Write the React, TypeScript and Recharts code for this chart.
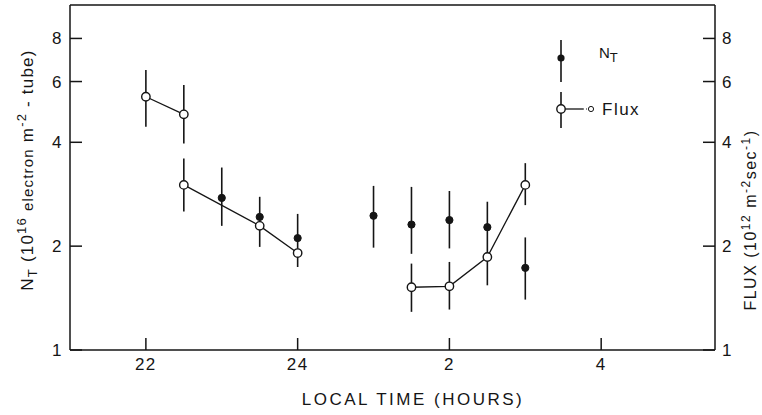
import React from 'react';
import { ScatterChart, Scatter, XAxis, YAxis, ErrorBar } from 'recharts';

// Local time in hours (after midnight written as 24 + h)
const ntHours = [23, 23.5, 24, 25, 25.5, 26, 26.5, 27];
const ntValues = [2.76, 2.43, 2.11, 2.45, 2.31, 2.38, 2.27, 1.73];
const ntLow = [2.29, 1.99, 1.74, 1.98, 1.9, 1.97, 1.54, 1.4];
const ntHigh = [3.38, 2.78, 2.48, 2.99, 2.97, 2.89, 2.69, 2.12];

const flux1Hours = [22, 22.5];
const flux1Values = [5.42, 4.82];
const flux1Low = [4.44, 3.97];
const flux1High = [6.48, 5.86];

const flux2Hours = [22.5, 23.5, 24];
const flux2Values = [3.01, 2.29, 1.91];
const flux2Low: (number | null)[] = [2.52, null, null];
const flux2High: (number | null)[] = [3.59, null, null];

const flux3Hours = [25.5, 26, 26.5, 27];
const flux3Values = [1.52, 1.53, 1.86, 3.01];
const flux3Low: (number | null)[] = [1.29, 1.31, null, 2.63];
const flux3High: (number | null)[] = [1.78, 1.8, null, 3.48];

const xTicks = [22, 24, 26, 28];
const yTicks = [1, 2, 4, 6, 8];

const rows = (h: number[], v: number[], lo: (number | null)[], hi: (number | null)[]) =>
  h.map((x, i) => ({
    x,
    y: v[i],
    err: [lo[i] == null ? 0 : v[i] - (lo[i] as number), hi[i] == null ? 0 : (hi[i] as number) - v[i]],
  }));

const ntData = rows(ntHours, ntValues, ntLow, ntHigh);
const flux1 = rows(flux1Hours, flux1Values, flux1Low, flux1High);
const flux2 = rows(flux2Hours, flux2Values, flux2Low, flux2High);
const flux3 = rows(flux3Hours, flux3Values, flux3Low, flux3High);

const INK = '#151515';
const FONT = '"Liberation Sans", Arial, sans-serif';

const OpenDot = (p: any) => <circle cx={p.cx} cy={p.cy} r={4.2} fill="#fff" stroke={INK} strokeWidth={1.4} />;
const FilledDot = (p: any) => <circle cx={p.cx} cy={p.cy} r={3.6} fill={INK} stroke={INK} strokeWidth={1} />;

const tickStyle = { fontSize: 17, fill: INK, fontFamily: FONT, letterSpacing: 1.5 };

export default function App() {
  return (
    <div style={{ position: 'absolute', left: 0, top: 0, width: 762, height: 415, background: '#fff', overflow: 'hidden' }}>
      <ScatterChart width={762} height={415} margin={{ top: 0, right: 0, bottom: 0, left: 0 }}>
        <XAxis
          xAxisId="b"
          type="number"
          dataKey="x"
          domain={[21, 29.5]}
          ticks={xTicks}
          allowDataOverflow
          tickFormatter={(h: number) => String(h > 24 ? h - 24 : h)}
          tickSize={-12}
          tickMargin={20}
          height={65}
          stroke={INK}
          strokeWidth={1.5}
          tick={tickStyle}
        />
        <XAxis
          xAxisId="t"
          orientation="top"
          type="number"
          dataKey="x"
          domain={[21, 29.5]}
          ticks={xTicks}
          tick={false}
          tickLine={false}
          height={5}
          stroke={INK}
          strokeWidth={1.5}
        />
        <YAxis
          yAxisId="l"
          type="number"
          dataKey="y"
          scale="log"
          domain={[1, 10]}
          allowDataOverflow
          ticks={yTicks}
          width={70}
          tickSize={-12}
          tickMargin={19}
          stroke={INK}
          strokeWidth={1.5}
          tick={tickStyle}
        />
        <YAxis
          yAxisId="r"
          orientation="right"
          type="number"
          dataKey="y"
          scale="log"
          domain={[1, 10]}
          allowDataOverflow
          ticks={yTicks}
          width={47}
          tickSize={-12}
          tickMargin={19}
          stroke={INK}
          strokeWidth={1.5}
          tick={tickStyle}
        />
        <Scatter data={flux1} xAxisId="b" yAxisId="l" line={{ stroke: INK, strokeWidth: 1.3 }} shape={OpenDot} isAnimationActive={false}>
          <ErrorBar dataKey="err" direction="y" width={0} stroke={INK} strokeWidth={1.6} />
        </Scatter>
        <Scatter data={flux2} xAxisId="b" yAxisId="l" line={{ stroke: INK, strokeWidth: 1.3 }} shape={OpenDot} isAnimationActive={false}>
          <ErrorBar dataKey="err" direction="y" width={0} stroke={INK} strokeWidth={1.6} />
        </Scatter>
        <Scatter data={flux3} xAxisId="b" yAxisId="l" line={{ stroke: INK, strokeWidth: 1.3 }} shape={OpenDot} isAnimationActive={false}>
          <ErrorBar dataKey="err" direction="y" width={0} stroke={INK} strokeWidth={1.6} />
        </Scatter>
        <Scatter data={ntData} xAxisId="b" yAxisId="l" shape={FilledDot} isAnimationActive={false}>
          <ErrorBar dataKey="err" direction="y" width={0} stroke={INK} strokeWidth={1.6} />
        </Scatter>
      </ScatterChart>

      {/* Left axis title */}
      <div
        style={{
          position: 'absolute', left: 22 - 170, top: 170 - 11, width: 340, height: 22,
          transform: 'rotate(-90deg)', textAlign: 'center', whiteSpace: 'nowrap',
          fontFamily: FONT, fontSize: 17, color: INK, lineHeight: '22px', letterSpacing: 1.2,
        }}
      >
        N<sub style={{ fontSize: 13 }}>T</sub> (10<sup style={{ fontSize: 13 }}>16</sup> <span style={{ fontSize: 15 }}>electron</span> m<sup style={{ fontSize: 13 }}>-2</sup> - tube)
      </div>

      {/* Right axis title */}
      <div
        style={{
          position: 'absolute', left: 746 - 150, top: 220 - 10, width: 300, height: 20,
          transform: 'rotate(-90deg)', textAlign: 'center', whiteSpace: 'nowrap',
          fontFamily: FONT, fontSize: 16, color: INK, lineHeight: '20px', letterSpacing: 1.5,
        }}
      >
        FLUX (10<sup style={{ fontSize: 12 }}>12</sup> m<sup style={{ fontSize: 12 }}>-2</sup>sec<sup style={{ fontSize: 12 }}>-1</sup>)
      </div>

      {/* Bottom axis title */}
      <div
        style={{
          position: 'absolute', left: 263, top: 390, width: 300, textAlign: 'center',
          fontFamily: FONT, fontSize: 17, color: INK, letterSpacing: 2.5, whiteSpace: 'nowrap',
        }}
      >
        LOCAL TIME (HOURS)
      </div>

      {/* Legend */}
      <svg style={{ position: 'absolute', left: 540, top: 38 }} width={140} height={95}>
        <line x1={21} y1={2} x2={21} y2={44} stroke={INK} strokeWidth={1.6} />
        <circle cx={21} cy={20} r={3.6} fill={INK} />
        <line x1={21} y1={54} x2={21} y2={90} stroke={INK} strokeWidth={1.6} />
        <line x1={21} y1={71} x2={43} y2={71} stroke={INK} strokeWidth={1.3} />
        <line x1={43} y1={71} x2={48} y2={71} stroke={INK} strokeWidth={1} strokeDasharray="1 2" />
        <circle cx={21} cy={71} r={4.2} fill="#fff" stroke={INK} strokeWidth={1.4} />
        <circle cx={51} cy={71} r={2.6} fill="#fff" stroke={INK} strokeWidth={1} />
        <text x={59} y={20} fontFamily={FONT} fontSize={15} fill={INK}>
          N<tspan fontSize={13} dy={4}>T</tspan>
        </text>
        <text x={62} y={77} fontFamily={FONT} fontSize={17} fill={INK} letterSpacing={1.5}>Flux</text>
      </svg>
    </div>
  );
}
